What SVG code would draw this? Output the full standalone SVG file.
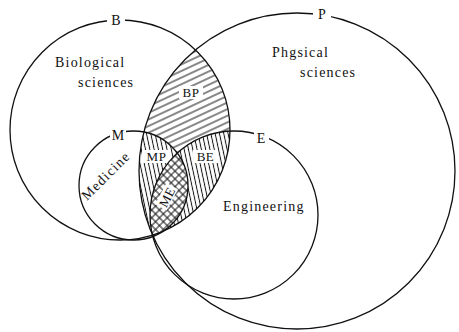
<svg xmlns="http://www.w3.org/2000/svg" width="459" height="332" viewBox="0 0 459 332">
<style>
.c{fill:none;stroke:#111;stroke-width:1.3}
.t{font-family:"Liberation Serif","DejaVu Serif","Times New Roman",serif;fill:#111}
.big{font-size:14px;letter-spacing:1.2px}
.lab{font-size:14px}
.hl{font-size:13px;letter-spacing:0.5px}
.h{stroke:#111;stroke-width:1}
.w{fill:#fff}
</style>
<defs>
<clipPath id="cB"><circle cx="120" cy="130" r="110"/></clipPath>
<clipPath id="cP"><circle cx="297" cy="171" r="158"/></clipPath>
<clipPath id="cM"><circle cx="133.5" cy="185.5" r="54.5"/></clipPath>
<clipPath id="cE"><circle cx="234" cy="215" r="84"/></clipPath>
<mask id="mNotME"><rect width="459" height="332" fill="#fff"/><circle cx="133.5" cy="185.5" r="54.5" fill="#000"/><circle cx="234" cy="215" r="84" fill="#000"/></mask>
<mask id="mNotM"><rect width="459" height="332" fill="#fff"/><circle cx="133.5" cy="185.5" r="54.5" fill="#000"/></mask>
<mask id="mNotE"><rect width="459" height="332" fill="#fff"/><circle cx="234" cy="215" r="84" fill="#000"/></mask>
<pattern id="hBP" patternUnits="userSpaceOnUse" width="12" height="6" patternTransform="rotate(-25)"><line class="h" x1="0" y1="3" x2="12" y2="3"/></pattern>
<pattern id="hV" patternUnits="userSpaceOnUse" width="4.2" height="12" patternTransform="rotate(-12)"><line class="h" x1="2.1" y1="0" x2="2.1" y2="12"/></pattern>
<pattern id="hX" patternUnits="userSpaceOnUse" width="5.5" height="5.5" patternTransform="rotate(45)"><line class="h" x1="2.75" y1="0" x2="2.75" y2="5.5"/><line class="h" x1="0" y1="2.75" x2="5.5" y2="2.75"/></pattern>
</defs>
<g id="regions">
<g id="BP-region" clip-path="url(#cB)"><g clip-path="url(#cP)"><rect width="459" height="332" fill="url(#hBP)" mask="url(#mNotME)"/></g></g>
<g id="BE-region" clip-path="url(#cB)"><g clip-path="url(#cE)"><rect width="459" height="332" fill="url(#hV)" mask="url(#mNotM)"/></g></g>
<g id="MP-region" clip-path="url(#cM)"><g clip-path="url(#cP)"><rect width="459" height="332" fill="url(#hV)" mask="url(#mNotE)"/></g></g>
<g id="ME-region" clip-path="url(#cM)"><g clip-path="url(#cE)"><rect width="459" height="332" fill="url(#hX)"/></g></g>
</g>
<g id="region-labels">
<rect class="w" x="179" y="86" width="24" height="13"/>
<text class="t hl" x="191" y="97" text-anchor="middle">BP</text>
<rect class="w" x="142" y="150" width="29" height="13"/>
<text class="t hl" x="156.5" y="161" text-anchor="middle">MP</text>
<rect class="w" x="193" y="150" width="25" height="13"/>
<text class="t hl" x="205.5" y="161" text-anchor="middle">BE</text>
<g transform="translate(167,197) rotate(-62)"><rect class="w" x="-12" y="-7" width="24" height="13"/><text class="t hl" x="0" y="4.5" text-anchor="middle">ME</text></g>
</g>
<g id="B"><circle class="c" cx="120" cy="130" r="110"/><rect class="w" x="107" y="12" width="18" height="14"/><text class="t lab" x="116" y="25" text-anchor="middle">B</text>
<text class="t big" x="55" y="67">Biological</text><text class="t big" x="78" y="87">sciences</text></g>
<g id="P"><circle class="c" cx="297" cy="171" r="158"/><rect class="w" x="313" y="6" width="18" height="14"/><text class="t lab" x="322" y="19" text-anchor="middle">P</text>
<text class="t big" x="272" y="57">Phgsical</text><text class="t big" x="300" y="77">sciences</text></g>
<g id="M"><circle class="c" cx="133.5" cy="185.5" r="54.5"/><rect class="w" x="110" y="129" width="16" height="13"/><text class="t lab" x="118" y="140" text-anchor="middle">M</text>
<text class="t big" x="0" y="0" text-anchor="middle" transform="translate(109,179) rotate(-45)">Medicine</text></g>
<g id="E"><circle class="c" cx="234" cy="215" r="84"/><rect class="w" x="254" y="130" width="15" height="14"/><text class="t lab" x="261" y="143" text-anchor="middle">E</text>
<text class="t big" x="223" y="211">Engineering</text></g>
<g id="connectors"/>
</svg>
